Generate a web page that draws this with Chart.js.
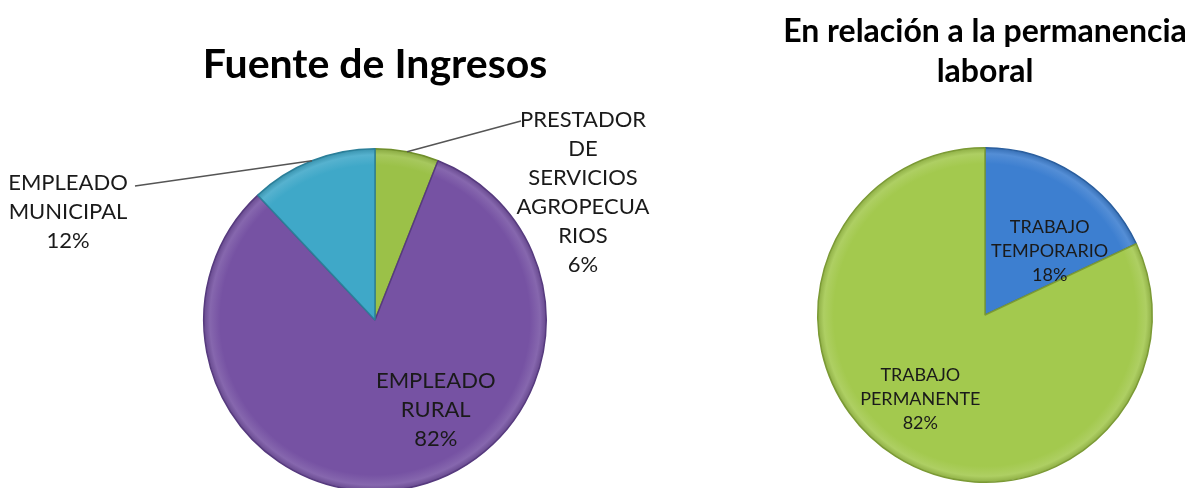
<!DOCTYPE html>
<html>
<head>
<meta charset="utf-8">
<script src="https://cdn.jsdelivr.net/npm/chart.js@4"></script>
<style>
  html, body { margin: 0; padding: 0; background: #fff; overflow: hidden; }
  #wrap { position: relative; width: 1204px; height: 488px; overflow: hidden; background: #fff; }
  canvas { position: absolute; top: 0; }
  #incomeChart { left: 0; }
  #tenureChart { left: 600px; }
</style>
</head>
<body>
<div id="wrap">
  <canvas id="incomeChart" width="750" height="500"></canvas>
  <canvas id="tenureChart" width="770" height="500"></canvas>
</div>
<script>
// Fuente de Ingresos
const incomeTitle = "Fuente de Ingresos";
const incomeCategories = [
  ["PRESTADOR", "DE", "SERVICIOS", "AGROPECUA", "RIOS"],
  ["EMPLEADO", "RURAL"],
  ["EMPLEADO", "MUNICIPAL"]
];
const incomeValues = [6, 82, 12];
const incomeColors = ["#9bc148", "#7652a3", "#3fa8c8"];
const incomeBorders = ["#6f8e2a", "#563a7e", "#2b7f99"];

// Permanencia laboral
const tenureTitle = ["En relación a la permanencia", "laboral"];
const tenureCategories = [
  ["TRABAJO", "TEMPORARIO"],
  ["TRABAJO", "PERMANENTE"]
];
const tenureValues = [18, 82];
const tenureColors = ["#3d7fd0", "#a3c94e"];
const tenureBorders = ["#2a5e9e", "#7b9a35"];

// lighten / darken a hex colour
function shade(hex, amt) {
  const n = parseInt(hex.slice(1), 16);
  const f = c => Math.max(0, Math.min(255, Math.round(amt > 0 ? c + (255 - c) * amt : c * (1 + amt))));
  return `rgb(${f(n >> 16)},${f((n >> 8) & 255)},${f(n & 255)})`;
}

// soft bevel look: flat body, lighter rim, dark outer edge
function bevelFill(colors) {
  return (c) => {
    const area = c.chart.chartArea;
    if (!area) return colors[c.dataIndex];
    const cx = (area.left + area.right) / 2;
    const cy = (area.top + area.bottom) / 2;
    const r = Math.min(area.right - area.left, area.bottom - area.top) / 2;
    const base = colors[c.dataIndex];
    const g = c.chart.ctx.createRadialGradient(cx, cy, 0, cx, cy, r);
    g.addColorStop(0, base);
    g.addColorStop(0.9, base);
    g.addColorStop(0.96, shade(base, 0.12));
    g.addColorStop(1, shade(base, -0.15));
    return g;
  };
}

// draws the category + percent text on / next to each slice
const sliceLabels = {
  id: "sliceLabels",
  afterDatasetsDraw(chart, args, opts) {
    const ctx = chart.ctx;
    const meta = chart.getDatasetMeta(0);
    const data = chart.data.datasets[0].data;
    const total = data.reduce((a, b) => a + b, 0);

    ctx.save();
    ctx.font = opts.font;
    ctx.fillStyle = opts.color;
    ctx.strokeStyle = "#555";
    ctx.lineWidth = 1.5;
    ctx.textAlign = "center";
    ctx.textBaseline = "middle";

    meta.data.forEach((arc, i) => {
      const p = opts.place[i];
      const { x, y, startAngle, endAngle, outerRadius } =
        arc.getProps(["x", "y", "startAngle", "endAngle", "outerRadius"], true);
      const lines = [].concat(chart.data.labels[i], Math.round(data[i] / total * 100) + "%");
      let cx, cy;

      if (p.inside) {
        const a = (p.angle - 90) * Math.PI / 180;
        cx = x + Math.cos(a) * outerRadius * p.r;
        cy = y + Math.sin(a) * outerRadius * p.r;
      } else {
        cx = p.x;
        cy = p.y;
        const mid = (startAngle + endAngle) / 2;
        ctx.beginPath();
        ctx.moveTo(x + Math.cos(mid) * outerRadius, y + Math.sin(mid) * outerRadius);
        ctx.lineTo(p.lineX, p.lineY);
        ctx.stroke();
      }

      const y0 = cy - (lines.length - 1) * opts.lineHeight / 2;
      lines.forEach((t, k) => ctx.fillText(t, cx, y0 + k * opts.lineHeight));
    });
    ctx.restore();
  }
};

function makePie(id, title, labels, values, colors, borders, cfg) {
  return new Chart(document.getElementById(id), {
    type: "pie",
    data: {
      labels: labels,
      datasets: [{
        data: values,
        backgroundColor: bevelFill(colors),
        borderColor: borders,
        borderWidth: 1.5
      }]
    },
    options: {
      responsive: false,
      animation: false,
      events: [],
      layout: { padding: { top: 0, left: 0, right: 0, bottom: cfg.bottom } },
      plugins: {
        legend: { display: false },
        tooltip: { enabled: false },
        title: {
          display: true,
          text: title,
          color: "#000",
          font: { family: "Lato", size: cfg.titleSize, weight: "bold", lineHeight: cfg.titleLH },
          padding: cfg.titlePad
        },
        sliceLabels: {
          font: cfg.labelFont,
          color: "#1a1a1a",
          lineHeight: cfg.labelLH,
          place: cfg.place
        }
      }
    },
    plugins: [sliceLabels]
  });
}

makePie("incomeChart", incomeTitle, incomeCategories, incomeValues, incomeColors, incomeBorders, {
  bottom: 8,
  titleSize: 41,
  titleLH: 1.2,
  titlePad: { top: 40.4, bottom: 58.4 },
  labelFont: "22px Lato",
  labelLH: 29,
  place: [
    { x: 583, y: 192, lineX: 521, lineY: 121 },
    { inside: true, angle: 146, r: 0.634 },
    { x: 68, y: 212, lineX: 135, lineY: 186 }
  ]
});

makePie("tenureChart", tenureTitle, tenureCategories, tenureValues, tenureColors, tenureBorders, {
  bottom: 17,
  titleSize: 32,
  titleLH: 1.25,
  titlePad: { top: 12, bottom: 55 },
  labelFont: "18px Lato",
  labelLH: 24,
  place: [
    { inside: true, angle: 45.4, r: 0.543 },
    { inside: true, angle: 217.4, r: 0.637 }
  ]
});
</script>
</body>
</html>
